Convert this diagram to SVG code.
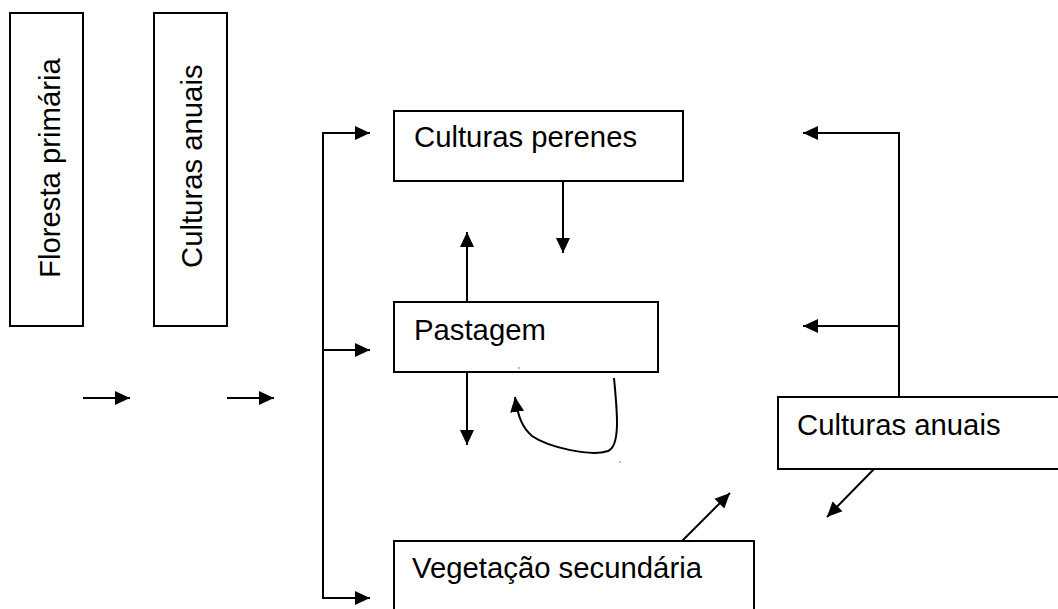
<svg xmlns="http://www.w3.org/2000/svg" width="1058" height="609" viewBox="0 0 1058 609">
<style>
.box{fill:#fff;stroke:#000;stroke-width:2}
.lbl{font-family:"Liberation Sans",Arial,sans-serif;font-size:29.3px;fill:#000}
.ln{fill:none;stroke:#000;stroke-width:2}
.arr{marker-end:url(#ah)}
</style>
<defs>
<marker id="ah" markerUnits="userSpaceOnUse" markerWidth="16" markerHeight="16" viewBox="0 0 16 14" refX="15" refY="7" orient="auto">
<path d="M0,0 L15,7 L0,14 z" fill="#000"/>
</marker>
</defs>
<rect width="1058" height="609" fill="#fff"/>
<g id="floresta-primaria">
<rect class="box" x="10" y="13" width="73" height="313"/>
<text class="lbl" transform="translate(60,278) rotate(-90)">Floresta primária</text>
</g>
<g id="culturas-anuais-1">
<rect class="box" x="154" y="13" width="73" height="313"/>
<text class="lbl" transform="translate(202,268) rotate(-90)">Culturas anuais</text>
</g>
<g id="culturas-perenes">
<rect class="box" x="394" y="111" width="289" height="70"/>
<text class="lbl" x="414" y="147">Culturas perenes</text>
</g>
<g id="pastagem">
<rect class="box" x="394" y="302" width="264" height="70"/>
<text class="lbl" x="414" y="340">Pastagem</text>
</g>
<g id="culturas-anuais-2">
<rect class="box" x="778" y="397" width="290" height="72"/>
<text class="lbl" x="797" y="435">Culturas anuais</text>
</g>
<g id="vegetacao-secundaria">
<rect class="box" x="394" y="541" width="360" height="80"/>
<text class="lbl" x="412" y="578">Vegetação secundária</text>
</g>
<g id="connectors">
<line class="ln arr" x1="83" y1="398" x2="130" y2="398"/>
<line class="ln arr" x1="227" y1="398" x2="274" y2="398"/>
<line class="ln" x1="323" y1="133" x2="323" y2="598"/>
<line class="ln arr" x1="322" y1="133" x2="370" y2="133"/>
<line class="ln arr" x1="323" y1="350" x2="370" y2="350"/>
<line class="ln arr" x1="322" y1="598" x2="370" y2="598"/>
<line class="ln" x1="899" y1="133" x2="899" y2="397"/>
<line class="ln arr" x1="900" y1="133" x2="803" y2="133"/>
<line class="ln arr" x1="899" y1="326" x2="803" y2="326"/>
<line class="ln arr" x1="563" y1="181" x2="563" y2="253"/>
<line class="ln arr" x1="467" y1="302" x2="467" y2="232"/>
<line class="ln arr" x1="467" y1="372" x2="467" y2="445"/>
<path class="ln arr" d="M614,378 C617,410 621,446 608,451 C590,457 548,447 532,436 C523,428 518,418 515,397"/>
<line class="ln arr" x1="682" y1="541" x2="730" y2="493"/>
<line class="ln arr" x1="874" y1="469" x2="827" y2="517"/>
</g>
<circle cx="519" cy="368" r="0.8" fill="#666"/>
<circle cx="620" cy="462" r="0.8" fill="#666"/>
</svg>
